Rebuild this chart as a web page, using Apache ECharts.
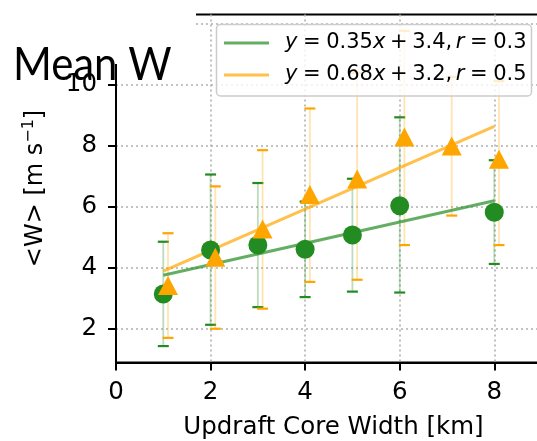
<!DOCTYPE html>
<html>
<head>
<meta charset="utf-8">
<script src="https://cdn.jsdelivr.net/npm/echarts@6/dist/echarts.min.js"></script>
<style>
  html, body { margin: 0; padding: 0; background: #ffffff; }
  #chart { width: 537px; height: 441px; }
</style>
</head>
<body>
<div id="chart"></div>
<script>
// Updraft core width bins [km]
const widths = [1, 2, 3, 4, 5, 6, 7, 8];

// Group 1 (green): mean W and error bar bounds [m s^-1]
const greenMean = [3.13, 4.58, 4.74, 4.60, 5.07, 6.03, null, 5.82];
const greenLow  = [1.42, 2.12, 2.70, 3.03, 3.21, 3.18, null, 4.12];
const greenHigh = [4.85, 7.06, 6.78, 6.17, 6.92, 8.94, null, 7.53];

// Group 2 (orange): mean W and error bar bounds [m s^-1]
const orangeMean = [3.41, 4.34, 5.27, 6.40, 6.91, 8.29, 8.00, 7.56];
const orangeLow  = [1.69, 1.99, 2.65, 3.53, 3.60, 4.74, 5.71, 4.74];
const orangeHigh = [5.13, 6.67, 7.86, 9.23, 10.40, 11.78, 10.27, 10.13];

// Linear fits
const greenFit  = { slope: 0.35, intercept: 3.4, r: 0.3 };
const orangeFit = { slope: 0.68, intercept: 3.2, r: 0.5 };
const fitRange = [1, 8];

// Axis ticks
const xTicks = [0, 2, 4, 6, 8];
const yTicks = [2, 4, 6, 8, 10, 12];

// orange group is dodged slightly to the right
const DODGE = 0.1;

const GREEN = '#228b22';
const ORANGE = '#ffa500';
const FONT = 'DejaVu Sans';

const chart = echarts.init(document.getElementById('chart'), null, { renderer: 'canvas' });

function points(xs, ys) {
  const out = [];
  xs.forEach((x, i) => { if (ys[i] != null) out.push([x, ys[i]]); });
  return out;
}

function errorBars(xs, lo, hi, lineColor, capColor, z) {
  const data = [];
  xs.forEach((x, i) => { if (lo[i] != null) data.push([x, lo[i], hi[i]]); });
  return {
    type: 'custom',
    data: data,
    encode: { x: 0, y: [1, 2] },
    z: z,
    silent: true,
    renderItem: function (params, api) {
      const x = api.value(0);
      const a = api.coord([x, api.value(1)]);
      const b = api.coord([x, api.value(2)]);
      const hw = 5.5;
      return {
        type: 'group',
        children: [
          { type: 'line', shape: { x1: a[0], y1: a[1], x2: b[0], y2: b[1] },
            style: { stroke: lineColor, lineWidth: 1.8 } },
          { type: 'line', shape: { x1: a[0] - hw, y1: a[1], x2: a[0] + hw, y2: a[1] },
            style: { stroke: capColor, lineWidth: 2.2 } },
          { type: 'line', shape: { x1: b[0] - hw, y1: b[1], x2: b[0] + hw, y2: b[1] },
            style: { stroke: capColor, lineWidth: 2.2 } }
        ]
      };
    }
  };
}

function fitLine(fit, color) {
  return {
    type: 'line',
    data: fitRange.map(x => [x, fit.slope * x + fit.intercept]),
    symbol: 'none',
    lineStyle: { color: color, width: 3 },
    z: 3,
    silent: true
  };
}

const orangeX = widths.map(w => w + DODGE);

// fit equation typeset with math-style spacing around relations and operators
function eqText(fit) {
  return '{i|y}{rel| }{n|=}{rel| }{n|' + fit.slope.toFixed(2) + '}{i|x}{bin| }{n|+}{bin| }{n|' +
         fit.intercept.toFixed(1) + ',}{thin| }{i|r}{rel| }{n|=}{rel| }{n|' + fit.r.toFixed(1) + '}';
}

const LEG_FS = 21;
const legendRich = {
  n: { fontFamily: FONT, fontSize: LEG_FS, fill: '#000' },
  i: { fontFamily: FONT, fontStyle: 'italic', fontSize: LEG_FS, fill: '#000' },
  rel: { fontFamily: FONT, fontSize: LEG_FS, width: 5.6 },
  bin: { fontFamily: FONT, fontSize: LEG_FS, width: 4.6 },
  thin: { fontFamily: FONT, fontSize: LEG_FS, width: 3.5 }
};

const gridDots = { color: '#b0b0b0', width: 1.6, type: [2, 3] };

chart.setOption({
  animation: false,
  backgroundColor: '#ffffff',
  grid: {
    left: 116, top: 14.5, width: 435, height: 348,
    outerBoundsMode: 'none', containLabel: false,
    show: true, borderColor: '#000', borderWidth: 2, backgroundColor: 'transparent'
  },
  xAxis: {
    type: 'value', min: 0, max: 9.2,
    name: 'Updraft Core Width [km]', nameLocation: 'middle', nameGap: 53,
    nameTextStyle: { fontFamily: FONT, fontSize: 24.5, color: '#000' },
    axisLine: { show: true, onZero: false, lineStyle: { color: '#000', width: 2 } },
    axisTick: { show: true, length: 8, lineStyle: { color: '#000', width: 2 }, customValues: xTicks },
    axisLabel: { fontFamily: FONT, fontSize: 24.5, color: '#000', margin: 18, customValues: xTicks },
    splitLine: { show: true, lineStyle: gridDots }
  },
  yAxis: {
    type: 'value', min: 0.88, max: 12.32,
    name: '<W> [m s{sup|−1}]', nameLocation: 'middle', nameRotate: 90, nameGap: 65,
    nameTextStyle: {
      fontFamily: FONT, fontSize: 24, color: '#000', lineHeight: 30,
      rich: { sup: { fontFamily: FONT, fontSize: 16, verticalAlign: 'top', lineHeight: 16 } }
    },
    axisLine: { show: true, lineStyle: { color: '#000', width: 2 } },
    axisTick: { show: true, length: 8, lineStyle: { color: '#000', width: 2 }, customValues: yTicks },
    axisLabel: { fontFamily: FONT, fontSize: 24.5, color: '#000', margin: 19, customValues: yTicks },
    splitLine: { show: true, lineStyle: gridDots }
  },
  series: [
    errorBars(widths, greenLow, greenHigh, 'rgba(34,139,34,0.3)', GREEN, 2),
    errorBars(orangeX, orangeLow, orangeHigh, 'rgba(255,165,0,0.3)', ORANGE, 2),
    fitLine(greenFit, 'rgba(34,139,34,0.7)'),
    fitLine(orangeFit, 'rgba(255,165,0,0.7)'),
    {
      type: 'scatter', data: points(widths, greenMean),
      symbol: 'circle', symbolSize: 19, itemStyle: { color: GREEN, opacity: 1 }, z: 4
    },
    {
      type: 'scatter', data: points(orangeX, orangeMean),
      symbol: 'triangle', symbolSize: [20, 19], itemStyle: { color: ORANGE, opacity: 1 }, z: 5
    }
  ],
  graphic: [
    // title block
    { type: 'rect', z: 100, shape: { x: 0, y: 0, width: 196, height: 64 }, style: { fill: '#ffffff' } },
    { type: 'text', z: 101, x: 13, y: 41.7, scaleX: 0.91,
      style: { text: 'Mean W', fontFamily: 'Lato', fontSize: 46, fill: '#000',
               textAlign: 'left', textVerticalAlign: 'alphabetic' } },
    // legend box
    { type: 'rect', z: 100,
      shape: { x: 216.5, y: 24.5, width: 315, height: 71.5, r: 4 },
      style: { fill: 'rgba(255,255,255,0.8)', stroke: '#cccccc', lineWidth: 1.5 } },
    { type: 'line', z: 101, shape: { x1: 224, y1: 43, x2: 269, y2: 43 },
      style: { stroke: 'rgba(34,139,34,0.7)', lineWidth: 3 } },
    { type: 'line', z: 101, shape: { x1: 224, y1: 75, x2: 269, y2: 75 },
      style: { stroke: 'rgba(255,165,0,0.7)', lineWidth: 3 } },
    { type: 'text', z: 101, x: 285, y: 43,
      style: { text: eqText(greenFit), rich: legendRich, fontFamily: FONT, fontSize: LEG_FS, fill: '#000',
               textAlign: 'left', textVerticalAlign: 'middle' } },
    { type: 'text', z: 101, x: 285, y: 75,
      style: { text: eqText(orangeFit), rich: legendRich, fontFamily: FONT, fontSize: LEG_FS, fill: '#000',
               textAlign: 'left', textVerticalAlign: 'middle' } }
  ]
});
</script>
</body>
</html>
